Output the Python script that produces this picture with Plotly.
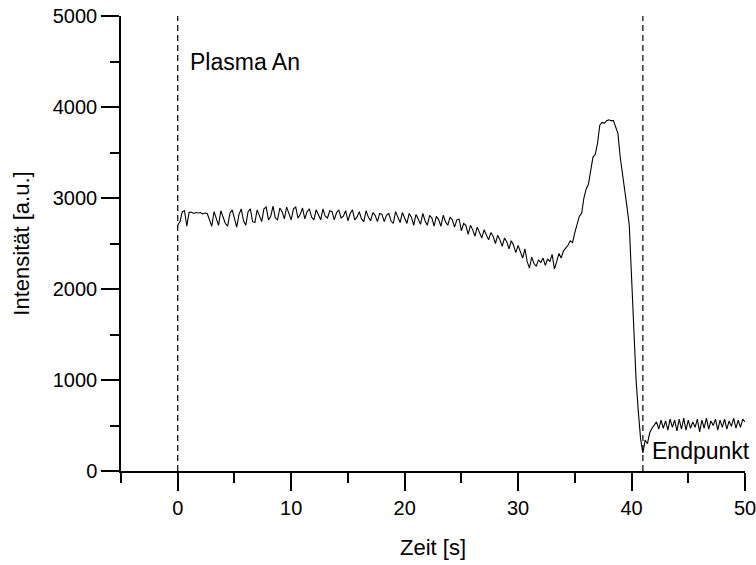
import plotly.graph_objects as go

# sampling interval of the recorded signal [s]
dt = 0.2

# intensity [a.u.], segment by segment
seg_start = [2700, 2740, 2850, 2860, 2690, 2840, 2845, 2830, 2840, 2835,
             2840, 2825, 2835, 2830, 2760, 2690]                      # 0.0 - 3.0 s
seg_early = [2850, 2780, 2700, 2860, 2800, 2720, 2690, 2830, 2870, 2760,
             2680, 2820, 2880, 2750, 2700, 2850, 2880, 2740, 2730, 2870,
             2810, 2740, 2880, 2900, 2760, 2800, 2910, 2780, 2760, 2890,
             2850, 2770, 2900, 2830, 2760]                              # 3.2 - 10.0 s
seg_mid1 = [2880, 2900, 2780, 2820, 2890, 2770, 2850, 2880, 2790, 2760,
            2870, 2820, 2760, 2880, 2800, 2780, 2860, 2850, 2760, 2840,
            2870, 2780, 2800, 2860, 2750, 2830, 2870, 2760, 2790, 2850,
            2770, 2740, 2860, 2790, 2750, 2840, 2810, 2740, 2830, 2820,
            2740, 2810, 2830, 2750, 2720, 2850, 2780, 2730, 2840, 2770]  # 10.2 - 20.0 s
seg_mid2 = [2720, 2830, 2790, 2700, 2820, 2770, 2710, 2830, 2750, 2700,
            2810, 2780, 2690, 2800, 2760, 2690, 2810, 2740, 2700, 2790,
            2760, 2680, 2760, 2770, 2640, 2720, 2700, 2600, 2700, 2650,
            2580, 2680, 2620, 2560, 2650, 2600, 2540, 2620, 2580, 2500,
            2590, 2540, 2470, 2560, 2520, 2440, 2530, 2480, 2400, 2480]  # 20.2 - 30.0 s
seg_valley = [2420, 2340, 2440, 2300, 2230, 2350, 2280, 2250, 2320, 2290,
              2340, 2260, 2330, 2300, 2380, 2220, 2300, 2390]          # 30.2 - 33.6 s
seg_peak = [2340, 2420, 2450, 2480, 2530, 2510, 2620, 2720, 2800, 2830,
            3000, 3100, 3150, 3300, 3450, 3480, 3600, 3800, 3830, 3820,
            3850, 3860, 3850, 3850, 3790, 3710, 3450, 3280, 3120, 2900,
            2700, 2150]                                                # 33.8 - 40.0 s
seg_drop = [1650, 1000, 650, 350, 200, 340, 300, 420, 470, 500]        # 40.2 - 42.0 s
seg_end = [540, 460, 560, 470, 550, 450, 570, 480, 560, 440,
           570, 460, 580, 450, 560, 470, 540, 480, 570, 430,
           560, 470, 580, 460, 550, 500, 570, 450, 560, 480,
           570, 460, 550, 490, 580, 470, 560, 480, 570, 540]            # 42.2 - 50.0 s

intensity = (seg_start + seg_early + seg_mid1 + seg_mid2 + seg_valley
             + seg_peak + seg_drop + seg_end)
time = [round(i * dt, 1) for i in range(len(intensity))]

# event markers
event_times = [0, 41]
event_labels = ["Plasma An", "Endpunkt"]
event_label_pos = [(0.9, 4490), (41.6, 220)]

x_range = [-5, 50]
y_range = [0, 5000]
x_ticks = [0, 10, 20, 30, 40, 50]
y_ticks = [0, 1000, 2000, 3000, 4000, 5000]

FONT = "Liberation Sans, Arial, sans-serif"

fig = go.Figure()
fig.add_trace(go.Scatter(x=time, y=intensity, mode="lines",
                         line=dict(color="black", width=1.1), hoverinfo="skip"))
for et in event_times:
    fig.add_trace(go.Scatter(x=[et, et], y=y_range, mode="lines",
                             line=dict(color="black", width=1.2, dash="6px,4px"),
                             hoverinfo="skip"))

for lab, (lx, ly) in zip(event_labels, event_label_pos):
    fig.add_annotation(x=lx, y=ly, text=lab, showarrow=False, xanchor="left",
                       yanchor="middle", font=dict(family=FONT, size=23, color="black"))

axis_common = dict(showgrid=False, zeroline=False, showline=True,
                   linecolor="black", linewidth=1.5, tickcolor="black", tickwidth=1.5)

fig.update_layout(
    width=756, height=565,
    margin=dict(l=121, r=11, t=16, b=94),
    paper_bgcolor="white", plot_bgcolor="white",
    showlegend=False,
    font=dict(family=FONT, size=20, color="black"),
    xaxis=dict(range=x_range, tickmode="array", tickvals=x_ticks,
               ticktext=[str(v) for v in x_ticks], ticklabeloverflow="allow",
               ticks="outside", ticklen=18,
               minor=dict(dtick=5, tick0=0, ticks="outside", ticklen=10,
                          tickwidth=1.5, tickcolor="black"),
               title=dict(text="Zeit [s]", font=dict(size=22), standoff=22),
               automargin=False,
               **axis_common),
    yaxis=dict(range=y_range, tickmode="array", tickvals=y_ticks,
               ticktext=[str(v) for v in y_ticks], ticklabeloverflow="allow",
               ticks="outside", ticklen=18,
               minor=dict(dtick=500, tick0=0, ticks="outside", ticklen=9,
                          tickwidth=1.5, tickcolor="black"),
               title=dict(text="Intensität [a.u.]", font=dict(size=22), standoff=17),
               automargin=False,
               **axis_common),
    xaxis2=dict(range=x_range, overlaying="x", side="top", anchor="y",
                tickmode="array", tickvals=x_ticks,
                ticks="inside", ticklen=10, showticklabels=False,
                minor=dict(dtick=5, tick0=0, ticks="inside", ticklen=6,
                           tickwidth=1.5, tickcolor="black"),
                **axis_common),
    yaxis2=dict(range=y_range, overlaying="y", side="right", anchor="x",
                tickmode="array", tickvals=y_ticks,
                ticks="inside", ticklen=10, showticklabels=False,
                minor=dict(dtick=500, tick0=0, ticks="inside", ticklen=7,
                           tickwidth=1.5, tickcolor="black"),
                **axis_common),
)

fig.write_html("out.html")
